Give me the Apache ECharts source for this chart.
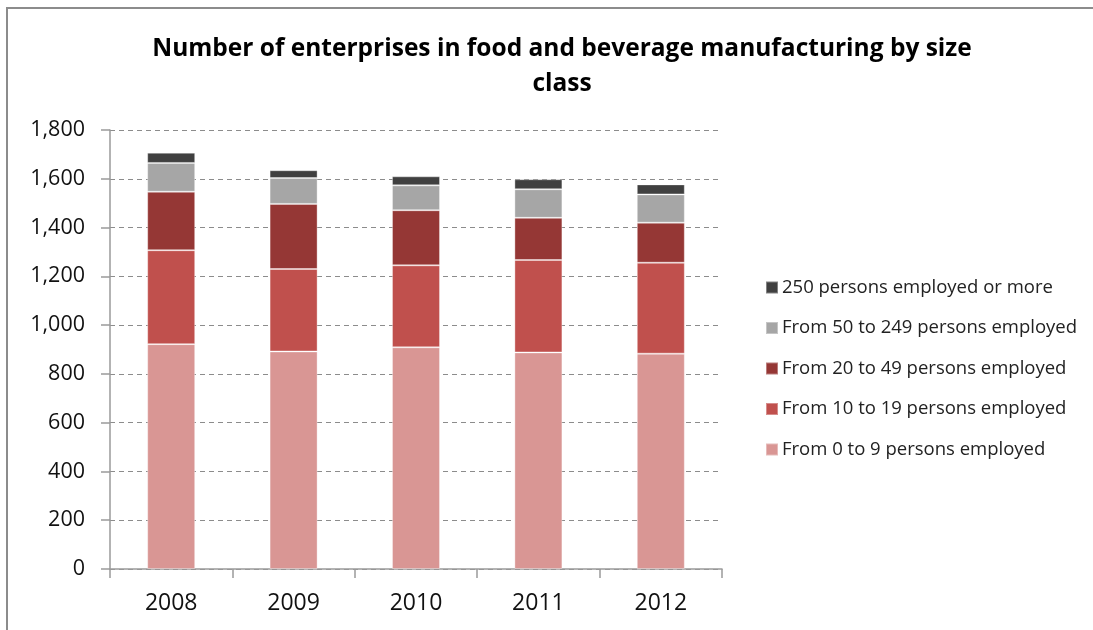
<!DOCTYPE html>
<html>
<head>
<meta charset="utf-8">
<script src="https://cdn.jsdelivr.net/npm/echarts@6/dist/echarts.min.js"></script>
<style>
  html, body { margin: 0; padding: 0; background: #fff; }
  #chart { width: 1093px; height: 630px; }
</style>
</head>
<body>
<div id="chart"></div>
<script>
// Enterprise counts by year and employment size class
const years = ['2008', '2009', '2010', '2011', '2012'];
const size0to9 = [922, 892, 909, 888, 883];
const size10to19 = [385, 338, 336, 379, 373];
const size20to49 = [240, 267, 226, 173, 164];
const size50to249 = [118, 106, 102, 117, 116];
const size250plus = [42, 32, 37, 41, 41];
const yTicks = [0, 200, 400, 600, 800, 1000, 1200, 1400, 1600, 1800];

const seriesDefs = [
  { name: 'From 0 to 9 persons employed', data: size0to9, color: '#D99694' },
  { name: 'From 10 to 19 persons employed', data: size10to19, color: '#C0504D' },
  { name: 'From 20 to 49 persons employed', data: size20to49, color: '#953735' },
  { name: 'From 50 to 249 persons employed', data: size50to249, color: '#A6A6A6' },
  { name: '250 persons employed or more', data: size250plus, color: '#404040' }
];

const chart = echarts.init(document.getElementById('chart'), null, { renderer: 'canvas' });

const fontFamily = '"Open Sans", "Noto Sans", sans-serif';

chart.setOption({
  animation: false,
  backgroundColor: '#ffffff',
  graphic: [{
    type: 'rect',
    shape: { x: 7, y: 8, width: 1200, height: 800 },
    style: { fill: 'none', stroke: '#8c8c8c', lineWidth: 2 },
    silent: true,
    z: -1
  }],
  title: {
    text: 'Number of enterprises in food and beverage manufacturing by size\nclass',
    left: 557,
    textAlign: 'center',
    top: 27,
    textStyle: {
      fontFamily: fontFamily,
      fontWeight: 'bold',
      fontSize: 24.5,
      lineHeight: 35,
      color: '#000000'
    }
  },
  legend: {
    orient: 'vertical',
    left: 760,
    top: 273,
    itemGap: 21.5,
    itemWidth: 12,
    itemHeight: 12,
    icon: 'rect',
    data: seriesDefs.map(s => s.name).reverse(),
    textStyle: { fontFamily: fontFamily, fontSize: 18.5, color: '#222222', padding: [0, 0, 0, -1] }
  },
  grid: { left: 110, right: 371, top: 130, bottom: 61, containLabel: false },
  xAxis: {
    type: 'category',
    data: years,
    axisLine: { lineStyle: { color: '#9a9a9a', width: 1.5 } },
    axisTick: { show: true, length: 9, lineStyle: { color: '#9a9a9a', width: 1.5 } },
    axisLabel: { fontFamily: fontFamily, fontSize: 23, color: '#111111', margin: 23 }
  },
  yAxis: {
    type: 'value',
    min: yTicks[0],
    max: yTicks[yTicks.length - 1],
    interval: 200,
    axisLine: { show: true, lineStyle: { color: '#9a9a9a', width: 1.5 } },
    axisTick: { show: true, length: 9, lineStyle: { color: '#9a9a9a', width: 1.5 } },
    axisLabel: {
      fontFamily: fontFamily,
      fontSize: 21.5,
      color: '#111111',
      margin: 25,
      formatter: v => v.toLocaleString('en-US')
    },
    splitLine: { lineStyle: { color: '#8c8c8c', type: [5, 4], width: 1 } }
  },
  series: seriesDefs.map(s => ({
    name: s.name,
    type: 'bar',
    stack: 'total',
    barWidth: 48,
    data: s.data,
    itemStyle: { color: s.color, borderColor: 'rgba(255,255,255,0.35)', borderWidth: 1 }
  }))
});
</script>
</body>
</html>
